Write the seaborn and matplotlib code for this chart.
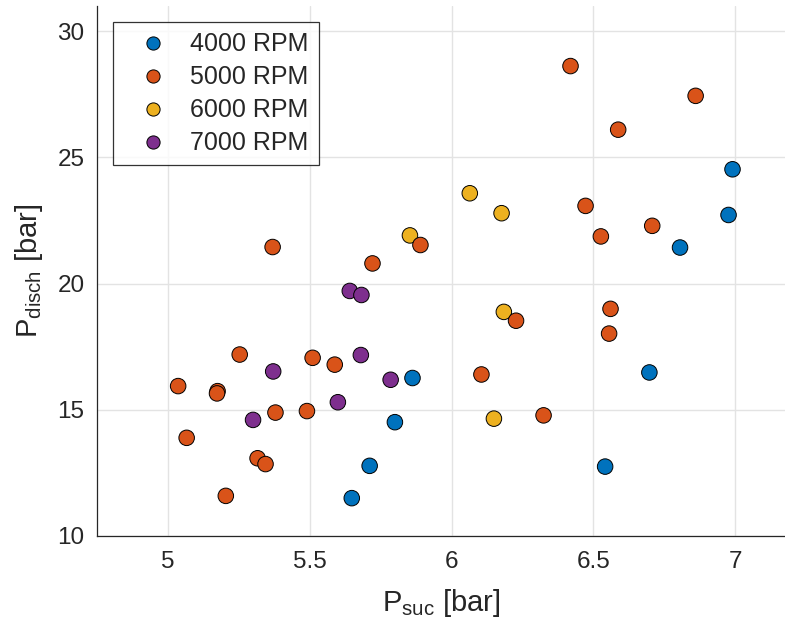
from __future__ import annotations

import matplotlib

matplotlib.use("Agg")
import matplotlib.pyplot as plt
import pandas as pd
import seaborn as sns

# suction / discharge pressures, grouped by speed
SUC_4000 = [5.648, 5.711, 5.800, 5.862, 6.541, 6.697, 6.805, 6.976, 6.990]
DISCH_4000 = [11.50, 12.78, 14.51, 16.26, 12.75, 16.48, 21.43, 22.72, 24.53]

SUC_5000 = [5.036, 5.175, 5.173, 5.066, 5.379, 5.490, 5.316, 5.344, 5.204, 5.369, 5.890, 5.721, 5.253,
            5.510, 5.588, 6.105, 6.472, 6.526, 6.707, 6.227, 6.560, 6.555, 6.324, 6.419, 6.860, 6.587]
DISCH_5000 = [15.94, 15.74, 15.65, 13.89, 14.89, 14.95, 13.08, 12.85, 11.59, 21.45, 21.53, 20.80, 17.19,
              17.06, 16.79, 16.40, 23.08, 21.87, 22.29, 18.53, 19.00, 18.02, 14.78, 28.62, 27.44, 26.10]

SUC_6000 = [5.853, 6.064, 6.176, 6.184, 6.149]
DISCH_6000 = [21.91, 23.58, 22.79, 18.88, 14.65]

SUC_7000 = [5.300, 5.599, 5.641, 5.682, 5.371, 5.680, 5.785]
DISCH_7000 = [14.60, 15.30, 19.71, 19.55, 16.52, 17.17, 16.19]

SPEEDS = ["4000 RPM", "5000 RPM", "6000 RPM", "7000 RPM"]
COLORS = ["#0072BD", "#D95319", "#EDB120", "#7E2F8E"]


def build_frame() -> pd.DataFrame:
    # draw order: 4000, 6000, 5000, 7000 (orange sits on top of yellow where they overlap)
    parts = [
        (SPEEDS[0], SUC_4000, DISCH_4000),
        (SPEEDS[2], SUC_6000, DISCH_6000),
        (SPEEDS[1], SUC_5000, DISCH_5000),
        (SPEEDS[3], SUC_7000, DISCH_7000),
    ]
    rows = []
    for speed, suc, disch in parts:
        rows.append(pd.DataFrame({"p_suc": suc, "p_disch": disch, "speed": speed}))
    return pd.concat(rows, ignore_index=True)


def main() -> None:
    sns.set_theme(style="white")
    plt.rcParams["font.family"] = ["Liberation Sans", "DejaVu Sans"]
    plt.rcParams["mathtext.fontset"] = "custom"
    plt.rcParams["mathtext.rm"] = "Liberation Sans"
    plt.rcParams["mathtext.it"] = "Liberation Sans"

    df = build_frame()

    fig = plt.figure(figsize=(7.85, 6.31), dpi=100)
    ax = fig.add_axes([97 / 785, 95 / 631, 688 / 785, 530 / 631])

    sns.scatterplot(data=df, x="p_suc", y="p_disch", hue="speed", hue_order=SPEEDS,
                    palette=COLORS, s=125, edgecolor="black", linewidth=0.7, ax=ax, zorder=3)

    ax.set_xlim(4.75, 7.175)
    ax.set_ylim(10, 31)
    ax.set_xticks([5, 5.5, 6, 6.5, 7])
    ax.set_xticklabels(["5", "5.5", "6", "6.5", "7"])
    ax.set_yticks([10, 15, 20, 25, 30])
    ax.grid(True, color="#e3e3e3", linewidth=1.0)
    ax.set_axisbelow(True)

    for side in ["top", "right"]:
        ax.spines[side].set_visible(False)
    for side in ["left", "bottom"]:
        ax.spines[side].set_color("#262626")
        ax.spines[side].set_linewidth(0.9)
    ax.tick_params(direction="in", length=5.5, width=0.9, color="#262626",
                   labelsize=17.5, labelcolor="#262626")
    ax.tick_params(axis="x", pad=11)
    ax.tick_params(axis="y", pad=9)

    ax.set_xlabel(r"P$_{\mathrm{suc}}$ [bar]", fontsize=21, color="#262626", labelpad=10)
    ax.set_ylabel(r"P$_{\mathrm{disch}}$ [bar]", fontsize=21, color="#262626", labelpad=9)

    handles, labels = ax.get_legend_handles_labels()
    leg = ax.legend(handles, labels, loc="upper left", fontsize=18, frameon=True, fancybox=False,
                    borderaxespad=0.65, handlelength=2.4, handletextpad=0.28, labelspacing=0.36,
                    borderpad=0.4, markerscale=0.85)
    leg.get_frame().set_edgecolor("black")
    leg.get_frame().set_linewidth(0.9)

    fig.savefig("out.png", dpi=100)
    plt.close(fig)


if __name__ == "__main__":
    main()
